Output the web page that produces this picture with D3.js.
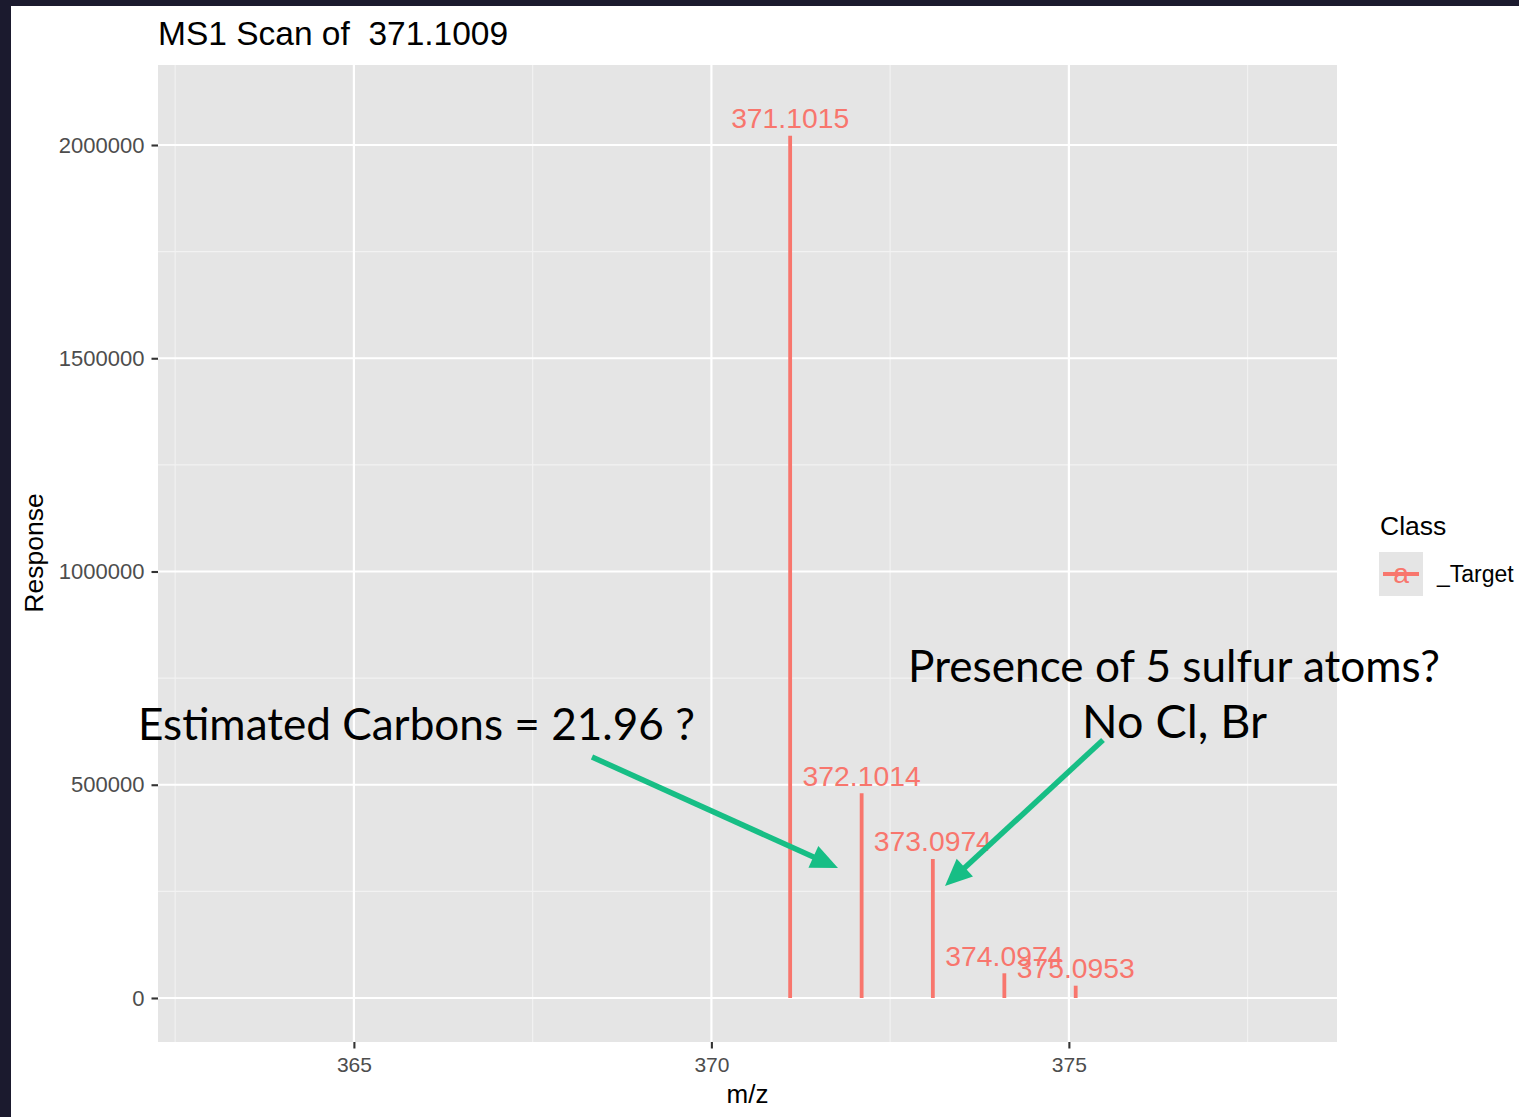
<!DOCTYPE html>
<html>
<head>
<meta charset="utf-8">
<script src="https://cdn.jsdelivr.net/npm/d3@7"></script>
<style>
  body { margin: 0; background: #ffffff; }
  svg { display: block; }
  text { font-family: "Liberation Sans", Arial, Helvetica, sans-serif; }
</style>
</head>
<body>
<svg id="chart" width="1519" height="1117"></svg>
<script>
// Isotope peaks of the MS1 scan
const peakMz = [371.1015, 372.1014, 373.0974, 374.0974, 375.0953];
const peakResponse = [2021800, 480000, 325900, 57900, 28800];
const peakLabels = ["371.1015", "372.1014", "373.0974", "374.0974", "375.0953"];

// Axis ticks and grid
const xTicks = [365, 370, 375];
const xMinorTicks = [362.5, 367.5, 372.5, 377.5];
const yTicks = [0, 500000, 1000000, 1500000, 2000000];
const yMinorTicks = [250000, 750000, 1250000, 1750000];

// Texts
const chartTitle = "MS1 Scan of  371.1009";
const xTitle = "m/z";
const yTitle = "Response";
const legendTitle = "Class";
const seriesName = "_Target";
const noteCarbons = ["Estimated Carbons = 21.96 ?"];
const noteSulfur = ["Presence of 5 sulfur atoms?", "No Cl, Br"];

const W = 1519, H = 1117;
const panel = { left: 158, right: 1337, top: 65, bottom: 1042 };
const red = "#F8766D";
const green = "#17BE85";

const svg = d3.select("#chart");

// page frame
svg.append("rect").attr("width", W).attr("height", H).attr("fill", "#ffffff");
svg.append("rect").attr("x", 0).attr("y", 0).attr("width", W).attr("height", 6).attr("fill", "#1b1a2e");
svg.append("rect").attr("x", 0).attr("y", 0).attr("width", 11).attr("height", H).attr("fill", "#1b1a2e");

const x = d3.scaleLinear().domain([362.26, 378.75]).range([panel.left, panel.right]);
const y = d3.scaleLinear().domain([-103200, 2187600]).range([panel.bottom, panel.top]);

// panel background
svg.append("rect")
  .attr("x", panel.left).attr("y", panel.top)
  .attr("width", panel.right - panel.left).attr("height", panel.bottom - panel.top)
  .attr("fill", "#E5E5E5");

const grid = svg.append("g");
grid.selectAll(".hmin").data(yMinorTicks).join("line")
  .attr("x1", panel.left).attr("x2", panel.right)
  .attr("y1", d => y(d)).attr("y2", d => y(d))
  .attr("stroke", "#F2F2F2").attr("stroke-width", 1.1);
grid.selectAll(".vmin").data(xMinorTicks).join("line")
  .attr("y1", panel.top).attr("y2", panel.bottom)
  .attr("x1", d => x(d)).attr("x2", d => x(d))
  .attr("stroke", "#F2F2F2").attr("stroke-width", 1.1);
grid.selectAll(".hmaj").data(yTicks).join("line")
  .attr("x1", panel.left).attr("x2", panel.right)
  .attr("y1", d => y(d)).attr("y2", d => y(d))
  .attr("stroke", "#ffffff").attr("stroke-width", 2.2);
grid.selectAll(".vmaj").data(xTicks).join("line")
  .attr("y1", panel.top).attr("y2", panel.bottom)
  .attr("x1", d => x(d)).attr("x2", d => x(d))
  .attr("stroke", "#ffffff").attr("stroke-width", 2.2);

// axes
const yAxis = svg.append("g")
  .attr("transform", `translate(${panel.left},0)`)
  .call(d3.axisLeft(y).tickValues(yTicks).tickFormat(d3.format("d")).tickSize(6.5).tickPadding(7));
const xAxis = svg.append("g")
  .attr("transform", `translate(0,${panel.bottom})`)
  .call(d3.axisBottom(x).tickValues(xTicks).tickFormat(d3.format("d")).tickSize(6.5).tickPadding(8.5));
[yAxis, xAxis].forEach(a => {
  a.select(".domain").remove();
  a.selectAll(".tick line").attr("stroke", "#333333").attr("stroke-width", 2.1);
  a.selectAll(".tick text").attr("fill", "#4D4D4D")
    .style("font-family", '"Liberation Sans", Arial, sans-serif');
});
yAxis.selectAll(".tick text").style("font-size", "22px");
xAxis.selectAll(".tick text").style("font-size", "21px");

// peak sticks
const peaks = peakMz.map((m, i) => ({ mz: m, v: peakResponse[i], label: peakLabels[i] }));
svg.append("g").selectAll("line").data(peaks).join("line")
  .attr("x1", d => x(d.mz)).attr("x2", d => x(d.mz))
  .attr("y1", y(0)).attr("y2", d => y(d.v))
  .attr("stroke", red).attr("stroke-width", 3.8);

svg.append("g").selectAll("text").data(peaks).join("text")
  .attr("x", d => x(d.mz)).attr("y", d => y(d.v) - 7.5)
  .attr("text-anchor", "middle")
  .attr("fill", red)
  .style("font-size", "28.3px")
  .text(d => d.label);

// titles
svg.append("text").attr("x", panel.left).attr("y", 45)
  .style("font-size", "33.5px").style("white-space", "pre").attr("fill", "#000")
  .text(chartTitle);
svg.append("text").attr("x", (panel.left + panel.right) / 2).attr("y", 1103)
  .attr("text-anchor", "middle").style("font-size", "26px").attr("fill", "#000")
  .text(xTitle);
svg.append("text").attr("transform", "translate(43,553) rotate(-90)")
  .attr("text-anchor", "middle").style("font-size", "26.5px").attr("fill", "#000")
  .text(yTitle);

// legend
const lg = svg.append("g");
lg.append("text").attr("x", 1380).attr("y", 535).style("font-size", "26.5px").attr("fill", "#000").text(legendTitle);
lg.append("rect").attr("x", 1379).attr("y", 552).attr("width", 44).attr("height", 44).attr("fill", "#E5E5E5");
lg.append("line").attr("x1", 1383).attr("x2", 1419).attr("y1", 574).attr("y2", 574)
  .attr("stroke", red).attr("stroke-width", 3.8);
lg.append("text").attr("x", 1401).attr("y", 583).attr("text-anchor", "middle")
  .style("font-size", "28.3px").attr("fill", red).text("a");
lg.append("text").attr("x", 1437).attr("y", 582).style("font-size", "23px").attr("fill", "#000").text(seriesName);

// annotations: fit each line to its span
const noteFont = 'Lato, "Open Sans", sans-serif';
function fitText(g, str, cx, baseline, targetWidth, anchor) {
  const t = g.append("text").attr("x", cx).attr("y", baseline)
    .attr("text-anchor", anchor).style("font-family", noteFont)
    .style("font-size", "40px").attr("fill", "#000").text(str);
  const w = t.node().getComputedTextLength();
  t.style("font-size", (40 * targetWidth / w).toFixed(2) + "px");
  return t;
}
const notes = svg.append("g");
fitText(notes, noteCarbons[0], 138, 740, 557, "start");
fitText(notes, noteSulfur[0], 1174, 682, 532, "middle");
fitText(notes, noteSulfur[1], 1174.5, 738, 185, "middle");

// arrows
function arrow(g, x0, y0, x1, y1) {
  const dx = x1 - x0, dy = y1 - y0, len = Math.hypot(dx, dy);
  const ux = dx / len, uy = dy / len;
  const headL = 27, headW = 12;
  const bx = x1 - ux * headL, by = y1 - uy * headL;
  g.append("line").attr("x1", x0).attr("y1", y0).attr("x2", bx + ux * 2).attr("y2", by + uy * 2)
    .attr("stroke", green).attr("stroke-width", 5.5);
  g.append("path")
    .attr("d", `M${x1},${y1}L${bx - uy * headW},${by + ux * headW}L${bx + uy * headW},${by - ux * headW}Z`)
    .attr("fill", green);
}
arrow(notes, 592, 757, 838, 868);
arrow(notes, 1103, 740, 945, 886);
</script>
</body>
</html>
